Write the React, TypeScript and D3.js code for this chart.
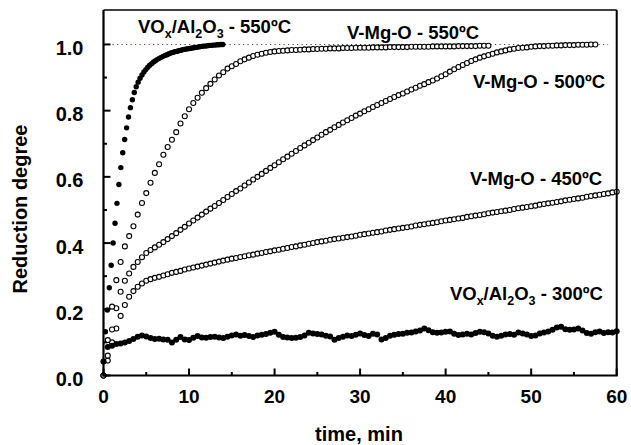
import React from "react";
import * as d3 from "d3";

// time grids (min)
const STEP_OPEN = 0.5;
const STEP_F550 = 0.225;
const STEP_F300 = 0.5;

// VOx/Al2O3 - 550 ºC (filled)
const voxAl550 = [0.042,0.132,0.198,0.265,0.333,0.400,0.460,0.520,0.577,0.628,0.673,0.713,0.748,0.781,0.809,0.833,
 0.855,0.872,0.886,0.898,0.908,0.917,0.924,0.931,0.937,0.942,0.947,0.951,0.955,0.958,0.961,0.964,0.967,0.969,0.972,0.974,0.976,0.978,0.979,0.981,0.982,0.984,0.985,0.986,0.987,0.988,0.989,0.990,0.991,0.992,0.993,0.994,0.995,0.995,0.996,0.997,0.997,0.998,0.998,0.999,0.999,1.000,1.000];

// V-Mg-O - 550 ºC (open)
const vmgo550 = [0,0.107,0.208,0.288,0.343,0.39,0.421,0.451,0.486,0.521,
 0.551,0.582,0.612,0.638,0.667,0.69,0.712,0.735,0.761,0.783,
 0.804,0.823,0.839,0.854,0.868,0.881,0.894,0.906,0.916,0.927,
 0.934,0.941,0.949,0.955,0.96,0.965,0.969,0.972,0.975,0.977,
 0.979,0.980,0.981,0.982,0.983,0.983,0.984,0.985,0.985,0.986,
 0.986,0.987,0.987,0.988,0.988,0.988,0.989,0.989,0.989,0.990,
 0.990,0.990,0.990,0.991,0.991,0.991,0.991,0.992,0.992,0.992,
 0.992,0.992,0.993,0.993,0.993,0.993,0.993,0.994,0.994,0.994,
 0.994,0.994,0.994,0.995,0.995,0.995,0.995,0.995,0.996,0.996,
 0.996];

// V-Mg-O - 500 ºC (open)
const vmgo500 = [0,0.06,0.139,0.203,0.253,0.286,0.308,0.328,0.343,0.357,
 0.37,0.379,0.387,0.395,0.403,0.412,0.421,0.43,0.44,0.449,
 0.459,0.468,0.477,0.486,0.495,0.504,0.512,0.521,0.53,0.539,
 0.548,0.557,0.565,0.574,0.583,0.592,0.6,0.609,0.618,0.627,
 0.635,0.644,0.653,0.661,0.67,0.678,0.687,0.695,0.703,0.711,
 0.719,0.727,0.735,0.742,0.75,0.757,0.764,0.771,0.778,0.785,
 0.791,0.798,0.804,0.811,0.817,0.823,0.829,0.835,0.841,0.847,
 0.852,0.858,0.864,0.869,0.875,0.88,0.886,0.891,0.897,0.904,
 0.91,0.918,0.925,0.932,0.938,0.944,0.95,0.955,0.96,0.964,
 0.968,0.972,0.976,0.979,0.982,0.985,0.987,0.989,0.99,0.991,
 0.993,0.994,0.995,0.995,0.996,0.996,0.997,0.997,0.998,0.998,
 0.998,0.999,0.999,0.999,1.0,1.0];

// V-Mg-O - 450 ºC (open)
const vmgo450 = [0,0.045,0.10,0.142,0.18,0.213,0.238,0.255,0.268,0.278,
 0.286,0.291,0.295,0.298,0.302,0.306,0.31,0.313,0.316,0.32,
 0.323,0.326,0.329,0.332,0.335,0.338,0.341,0.344,0.347,0.35,
 0.353,0.355,0.358,0.36,0.363,0.365,0.368,0.37,0.373,0.375,
 0.378,0.38,0.383,0.385,0.388,0.39,0.393,0.395,0.398,0.40,
 0.403,0.405,0.407,0.41,0.412,0.414,0.416,0.418,0.42,0.422,
 0.425,0.427,0.429,0.431,0.433,0.435,0.438,0.44,0.442,0.444,
 0.446,0.448,0.45,0.453,0.455,0.457,0.459,0.461,0.463,0.466,
 0.468,0.47,0.472,0.474,0.476,0.479,0.481,0.483,0.485,0.487,
 0.49,0.492,0.494,0.496,0.498,0.5,0.503,0.505,0.507,0.509,
 0.511,0.513,0.516,0.518,0.52,0.522,0.524,0.526,0.529,0.531,
 0.533,0.535,0.537,0.54,0.542,0.544,0.546,0.548,0.55,0.553,
 0.555];

// VOx/Al2O3 - 300 ºC (filled)
const voxAl300 = [0.042,0.086,0.09,0.095,0.097,0.1,0.104,0.11,0.117,0.121,
 0.118,0.113,0.11,0.111,0.109,0.108,0.1,0.108,0.116,0.109,
 0.107,0.114,0.119,0.115,0.114,0.116,0.117,0.115,0.113,0.117,
 0.121,0.124,0.12,0.122,0.119,0.116,0.121,0.123,0.125,0.129,
 0.132,0.123,0.116,0.115,0.113,0.114,0.116,0.121,0.129,0.127,
 0.125,0.124,0.12,0.118,0.108,0.113,0.117,0.121,0.119,0.123,
 0.127,0.122,0.119,0.126,0.124,0.109,0.113,0.12,0.123,0.125,
 0.126,0.129,0.13,0.133,0.136,0.142,0.137,0.131,0.129,0.13,
 0.132,0.133,0.126,0.122,0.124,0.126,0.124,0.128,0.132,0.131,
 0.127,0.12,0.117,0.12,0.124,0.125,0.123,0.13,0.127,0.124,
 0.119,0.121,0.127,0.13,0.133,0.138,0.145,0.147,0.14,0.138,
 0.139,0.142,0.136,0.128,0.126,0.131,0.133,0.128,0.131,0.13,
 0.134];

const xTicksMajor = [0, 10, 20, 30, 40, 50, 60];
const xTicksMinor = [5, 15, 25, 35, 45, 55];
const yTicksMajor = [0, 0.2, 0.4, 0.6, 0.8, 1.0];
const yTicksMinor = [0.1, 0.3, 0.5, 0.7, 0.9];

const FONT = "'Liberation Sans', Arial, Helvetica, sans-serif";

export default function App() {
  const W = 631, H = 445;
  const x = d3.scaleLinear().domain([0, 60]).range([103.5, 616.7]);
  const y = d3.scaleLinear().domain([0, 1.104]).range([375.5, 10]);
  const fmt = d3.format(".1f");

  const pts = (vals: number[], step: number) => vals.map((v, i) => ({ t: i * step, v }));

  const openSeries = [pts(vmgo450, STEP_OPEN), pts(vmgo500, STEP_OPEN), pts(vmgo550, STEP_OPEN)];
  const filledSeries = [
    { d: pts(voxAl300, STEP_F300), r: 3.0 },
    { d: pts(voxAl550, STEP_F550), r: 2.7 },
  ];

  const x0 = x(0), x1 = x(60), yb = y(0), yt = 10;

  const label = (tx: number, vy: number, parts: React.ReactNode) => (
    <text x={x(tx)} y={y(vy)} fontFamily={FONT} fontWeight="bold" fontSize={18.5} fill="#000">{parts}</text>
  );

  const voxParts = (temp: string) => (
    <>
      <tspan>VO</tspan>
      <tspan dy={5} fontSize={12.5}>x</tspan>
      <tspan dy={-5}>/Al</tspan>
      <tspan dy={5} fontSize={12.5}>2</tspan>
      <tspan dy={-5}>O</tspan>
      <tspan dy={5} fontSize={12.5}>3</tspan>
      <tspan dy={-5}>{` - ${temp}ºC`}</tspan>
    </>
  );

  return (
    <svg width={W} height={H} style={{ position: "absolute", left: 0, top: 0, background: "#fff" }}>
      <rect x={0} y={0} width={W} height={H} fill="#fff" />
      {/* dotted reference line at 1.0 */}
      <line x1={x(0)} x2={x(59)} y1={y(1)} y2={y(1)} stroke="#444" strokeWidth={1.1} strokeDasharray="1.2 3.3" />

      {/* open circle series */}
      {openSeries.map((s, si) => (
        <g key={"o" + si}>
          {s.map((d, i) => (
            <circle key={i} cx={x(d.t)} cy={y(d.v)} r={2.5} fill="#fff" stroke="#000" strokeWidth={1.1} />
          ))}
        </g>
      ))}
      {/* filled series */}
      {filledSeries.map((s, si) => (
        <g key={"f" + si}>
          {s.d.map((d, i) => (
            <circle key={i} cx={x(d.t)} cy={y(d.v)} r={s.r} fill="#000" />
          ))}
        </g>
      ))}

      {/* frame */}
      <line x1={x0} x2={x0} y1={yt} y2={yb + 1} stroke="#000" strokeWidth={2.2} />
      <line x1={x0 - 1} x2={x1 + 1} y1={yb} y2={yb} stroke="#000" strokeWidth={2.2} />
      <line x1={x1} x2={x1} y1={yt} y2={yb} stroke="#000" strokeWidth={2} />
      <line x1={x0} x2={x1} y1={yt} y2={yt} stroke="#000" strokeWidth={1.6} />

      {/* x ticks */}
      {xTicksMajor.map((t) => (
        <g key={"xt" + t}>
          <line x1={x(t)} x2={x(t)} y1={yb} y2={yb - 7} stroke="#000" strokeWidth={2} />
          <text x={x(t)} y={403} textAnchor="middle" fontFamily={FONT} fontWeight="bold" fontSize={19}>{t}</text>
        </g>
      ))}
      {xTicksMinor.map((t) => (
        <line key={"xm" + t} x1={x(t)} x2={x(t)} y1={yb} y2={yb - 3.5} stroke="#000" strokeWidth={2} />
      ))}

      {/* y ticks */}
      {yTicksMajor.map((v) => (
        <g key={"yt" + v}>
          <line x1={x0} x2={x0 + 7} y1={y(v)} y2={y(v)} stroke="#000" strokeWidth={2} />
          <text x={83.5} y={y(v) + 10.5} textAnchor="end" fontFamily={FONT} fontWeight="bold" fontSize={20}>{fmt(v)}</text>
        </g>
      ))}
      {yTicksMinor.map((v) => (
        <line key={"ym" + v} x1={x0} x2={x0 + 3.5} y1={y(v)} y2={y(v)} stroke="#000" strokeWidth={2} />
      ))}

      {/* axis titles */}
      <text x={359} y={441} textAnchor="middle" fontFamily={FONT} fontWeight="bold" fontSize={20}>time, min</text>
      <text transform="translate(27,209) rotate(-90)" textAnchor="middle" fontFamily={FONT} fontWeight="bold" fontSize={20}>Reduction degree</text>

      {/* series labels */}
      {label(4.03, 1.034, voxParts("550"))}
      {label(28.47, 1.016, "V-Mg-O - 550ºC")}
      {label(43.2, 0.868, "V-Mg-O - 500ºC")}
      {label(42.85, 0.575, "V-Mg-O - 450ºC")}
      {label(40.5, 0.228, voxParts("300"))}
    </svg>
  );
}
